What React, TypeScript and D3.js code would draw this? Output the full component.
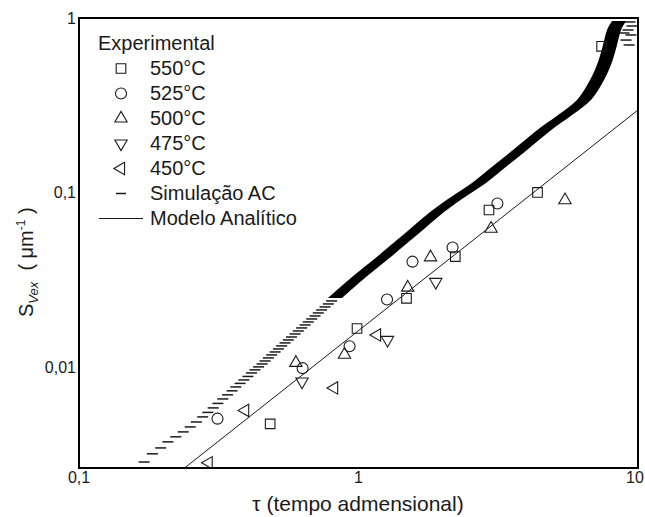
import React from "react";
import * as d3 from "d3";

const width = 645;
const height = 517;
const frame = { left: 79, right: 638, top: 18, bottom: 468 };

// axes
const xTicks = [0.1, 1, 10];
const xTickLabels = ["0,1", "1", "10"];
const yTicks = [1, 0.1, 0.01];
const yTickLabels = ["1", "0,1", "0,01"];
const yMin = 0.00268;

// experimental points
const t550X = [7.41, 4.37, 2.93, 2.22, 1.485, 0.988, 0.483];
const t550Y = [0.689, 0.1007, 0.0799, 0.0433, 0.025, 0.0168, 0.00479];
const t525X = [3.14, 2.17, 1.56, 1.265, 0.929, 0.631, 0.313];
const t525Y = [0.0871, 0.0488, 0.0405, 0.0246, 0.0133, 0.00997, 0.00513];
const t500X = [5.48, 2.98, 1.81, 1.5, 0.891, 0.597];
const t500Y = [0.091, 0.0625, 0.0429, 0.0288, 0.0119, 0.0107];
const t475X = [1.89, 1.27, 0.628];
const t475Y = [0.031, 0.01445, 0.00836];
const t450X = [1.165, 0.818, 0.393, 0.291];
const t450Y = [0.01544, 0.00768, 0.00572, 0.00287];

// simulacao AC, single dashes
const simX = [
  0.171, 0.183, 0.196, 0.208, 0.222, 0.236, 0.25, 0.263, 0.277, 0.289, 0.302, 0.314,
  0.327, 0.34, 0.353, 0.364, 0.377, 0.389, 0.402, 0.414, 0.426, 0.439, 0.452, 0.463,
  0.476, 0.489, 0.503, 0.517, 0.531, 0.546, 0.561, 0.576, 0.593, 0.609, 0.626, 0.644,
  0.661, 0.68, 0.699, 0.718, 0.738, 0.759, 0.78, 0.801,
  8.91, 9.06, 9.21, 9.29, 9.36, 9.44, 9.52,
];
const simY = [
  0.0029, 0.00323, 0.00349, 0.00378, 0.00404, 0.00431, 0.0046, 0.00491, 0.00525, 0.00557,
  0.00591, 0.00627, 0.00665, 0.00702, 0.0074, 0.00779, 0.00816, 0.00854, 0.00894, 0.00936,
  0.00975, 0.01014, 0.01054, 0.01096, 0.01141, 0.01187, 0.01234, 0.01284, 0.01336, 0.0139,
  0.01445, 0.01503, 0.01564, 0.01627, 0.01693, 0.01761, 0.01832, 0.01905, 0.01982, 0.02062,
  0.02145, 0.02232, 0.02321, 0.02415,
  0.821, 0.748, 0.854, 0.701, 0.949, 0.8, 0.9,
];
// simulacao AC, dense part (points overlap into a solid band)
const bandX = [0.824, 1.004, 1.244, 1.528, 1.817, 2.214, 2.698, 3.208, 3.783, 4.572, 5.481, 6.409, 7.135, 7.62, 7.94, 8.21, 8.55];
const bandY = [0.0251, 0.0331, 0.0437, 0.0575, 0.073, 0.0924, 0.1141, 0.1426, 0.1761, 0.2261, 0.2791, 0.3401, 0.442, 0.5605, 0.701, 0.854, 0.961];

// modelo analitico
const modelX = [0.2385, 10];
const modelY = [0.00268, 0.298];

const legendLabels = ["550°C", "525°C", "500°C", "475°C", "450°C", "Simulação AC", "Modelo Analítico"];

const x = d3.scaleLog().domain([0.1, 10]).range([frame.left, frame.right]);
const y = d3.scaleLog().domain([yMin, 1]).range([frame.bottom, frame.top]);

const sym = (type: d3.SymbolType, size: number) => d3.symbol().type(type).size(size)() as string;
const shapes = [
  { d: sym(d3.symbolSquare, 92), rot: 0 },
  { d: sym(d3.symbolCircle, 95), rot: 0 },
  { d: sym(d3.symbolTriangle, 66), rot: 0 },
  { d: sym(d3.symbolTriangle, 66), rot: 180 },
  { d: sym(d3.symbolTriangle, 66), rot: -90 },
];
const series = [
  [t550X, t550Y],
  [t525X, t525Y],
  [t500X, t500Y],
  [t475X, t475Y],
  [t450X, t450Y],
];

const font = "'Liberation Sans', Arial, sans-serif";
const ink = "#1a1a1a";

const App = () => {
  const band = d3
    .area<number>()
    .y((i) => y(bandY[i]))
    .x0((i) => x(bandX[i]) - 7)
    .x1((i) => x(bandX[i]) + 7)
    .curve(d3.curveCatmullRom)(d3.range(bandX.length));

  const model = d3
    .line<number>()
    .x((i) => x(modelX[i]))
    .y((i) => y(modelY[i]))(d3.range(modelX.length));

  // keep the last x label inside the window
  const xLabelPos = (t: number) => Math.min(x(t), width - 10);

  return (
    <svg width={width} height={height} style={{ position: "absolute", left: 0, top: 0, background: "#fff" }} fontFamily={font}>
      <defs>
        <clipPath id="plot">
          <rect x={frame.left} y={frame.top} width={frame.right - frame.left} height={frame.bottom - frame.top} />
        </clipPath>
      </defs>

      <g clipPath="url(#plot)">
        <path d={model || ""} stroke={ink} strokeWidth={1} fill="none" />
        <path d={band || ""} fill="#000" />
        {simX.map((v, i) => (
          <line key={i} x1={x(v) - 5.5} x2={x(v) + 5.5} y1={y(simY[i])} y2={y(simY[i])} stroke={ink} strokeWidth={1.5} />
        ))}
        {series.map(([sx, sy], s) =>
          sx.map((v, i) => (
            <path
              key={s + "-" + i}
              d={shapes[s].d}
              transform={`translate(${x(v)},${y(sy[i])}) rotate(${shapes[s].rot})`}
              fill="none"
              stroke={ink}
              strokeWidth={1.1}
            />
          ))
        )}
      </g>

      <rect x={frame.left} y={frame.top} width={frame.right - frame.left} height={frame.bottom - frame.top} fill="none" stroke="#000" strokeWidth={2} />

      {xTicks.map((t, i) => (
        <text key={t} x={xLabelPos(t)} y={483} textAnchor="middle" fontSize={16} fill={ink}>
          {xTickLabels[i]}
        </text>
      ))}
      {yTicks.map((t, i) => (
        <text key={t} x={76} y={y(t) + 5.5} textAnchor="end" fontSize={16} fill={ink}>
          {yTickLabels[i]}
        </text>
      ))}

      <text x={358} y={511} textAnchor="middle" fontSize={21} fill={ink}>
        τ (tempo admensional)
      </text>
      <text transform="translate(33,317) rotate(-90)" fontSize={20} fill={ink} style={{ whiteSpace: "pre" }}>
        <tspan>S</tspan>
        <tspan fontSize={13} fontStyle="italic" dy={5}>Vex</tspan>
        <tspan dy={-5}>{"  ( μm"}</tspan>
        <tspan fontSize={12} dy={-8}>-1</tspan>
        <tspan dy={8}>{" )"}</tspan>
      </text>

      <g fontSize={20} fill={ink}>
        <text x={98} y={50}>Experimental</text>
        {legendLabels.map((l, i) => (
          <text key={l} x={150} y={75 + i * 25}>
            {l}
          </text>
        ))}
        {shapes.map((s, i) => (
          <path key={i} d={s.d} transform={`translate(121,${68.5 + i * 25}) rotate(${s.rot})`} fill="none" stroke={ink} strokeWidth={1.1} />
        ))}
        <line x1={116} x2={126} y1={193.5} y2={193.5} stroke={ink} strokeWidth={1.5} />
        <line x1={99} x2={143} y1={218.5} y2={218.5} stroke={ink} strokeWidth={1} />
      </g>
    </svg>
  );
};

export default App;
